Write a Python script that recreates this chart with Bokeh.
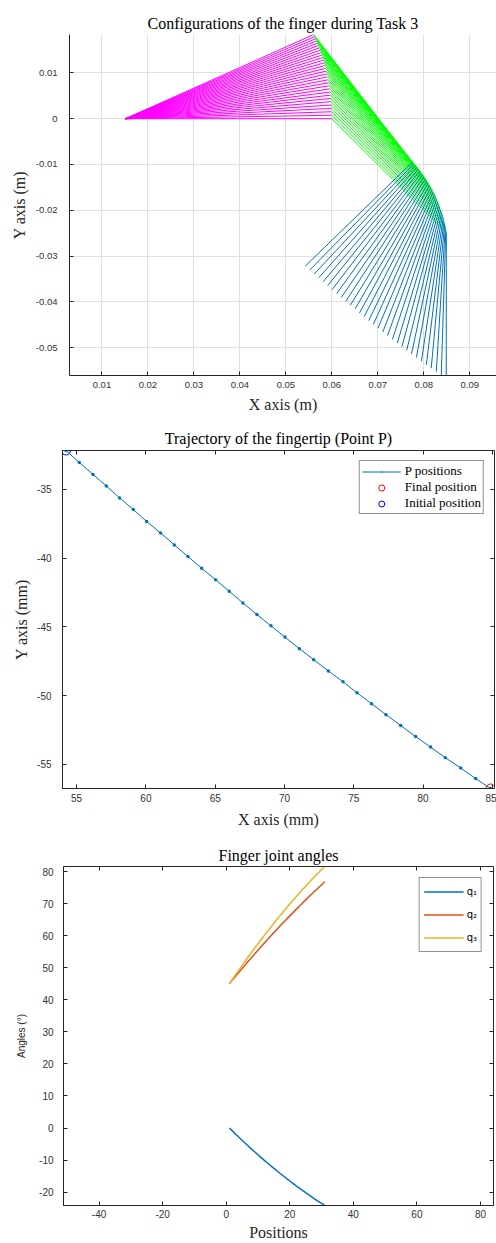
import math
from bokeh.plotting import figure
from bokeh.models import (FixedTicker, LinearAxis, Range1d, Legend,
                          LegendItem, ColumnDataSource)
from bokeh.layouts import column
from bokeh.embed import file_html
from bokeh.resources import INLINE

# ---------------- data ----------------
positions = [1, 2, 3, 4, 5, 6, 7, 8, 9, 10, 11, 12, 13, 14, 15, 16,
             17, 18, 19, 20, 21, 22, 23, 24, 25, 26, 27, 28, 29, 30, 31]
q1_deg = [0.00, -0.97, -1.94, -2.89, -3.83, -4.76, -5.67, -6.58, -7.47, -8.35,
          -9.22, -10.08, -10.92, -11.76, -12.58, -13.40, -14.20, -14.98, -15.76,
          -16.53, -17.28, -18.02, -18.75, -19.47, -20.18, -20.88, -21.56, -22.23,
          -22.89, -23.54, -24.18]
q2_deg = [45.00, 46.20, 47.39, 48.58, 49.75, 50.91, 52.07, 53.21, 54.34, 55.47,
          56.58, 57.68, 58.78, 59.86, 60.94, 62.00, 63.06, 64.10, 65.14, 66.16,
          67.18, 68.19, 69.18, 70.17, 71.14, 72.11, 73.07, 74.02, 74.95, 75.88, 76.80]
q3_deg = [45.00, 46.45, 47.89, 49.31, 50.71, 52.10, 53.47, 54.83, 56.17, 57.49,
          58.80, 60.09, 61.37, 62.63, 63.87, 65.10, 66.31, 67.51, 68.69, 69.86,
          71.00, 72.13, 73.25, 74.35, 75.43, 76.50, 77.55, 78.59, 79.61, 80.61, 81.60]

# finger geometry (m): base joint and first two phalanx lengths
base_xy_m = [0.0151, 0.0]
link_lengths_m = [0.0449, 0.0352]

# fingertip P positions (mm), first = initial, last = final
p_x_mm = [54.23, 55.19, 56.18, 57.14, 58.10, 59.09, 60.05, 61.06, 62.05, 63.03,
          64.02, 65.03, 66.01, 67.00, 68.01, 69.02, 70.03, 71.07, 72.10, 73.16,
          74.22, 75.23, 76.28, 77.32, 78.38, 79.46, 80.54, 81.60, 82.71, 83.79, 84.87]
p_y_mm = [-32.18, -33.05, -33.92, -34.76, -35.63, -36.47, -37.34, -38.18, -39.05,
          -39.89, -40.74, -41.58, -42.42, -43.27, -44.11, -44.93, -45.75, -46.59,
          -47.39, -48.21, -49.00, -49.80, -50.59, -51.39, -52.18, -52.98, -53.75,
          -54.52, -55.27, -56.04, -56.76]

x1_ticks = [0.01, 0.02, 0.03, 0.04, 0.05, 0.06, 0.07, 0.08, 0.09]
x1_labels = ["0.01", "0.02", "0.03", "0.04", "0.05", "0.06", "0.07", "0.08", "0.09"]
y1_ticks = [-0.05, -0.04, -0.03, -0.02, -0.01, 0.0, 0.01]
y1_labels = ["-0.05", "-0.04", "-0.03", "-0.02", "-0.01", "0", "0.01"]
x2_ticks = [55, 60, 65, 70, 75, 80, 85]
x2_labels = ["55", "60", "65", "70", "75", "80", "85"]
y2_ticks = [-55, -50, -45, -40, -35]
y2_labels = ["-55", "-50", "-45", "-40", "-35"]
x3_ticks = [-40, -20, 0, 20, 40, 60, 80]
x3_labels = ["-40", "-20", "0", "20", "40", "60", "80"]
y3_ticks = [-20, -10, 0, 10, 20, 30, 40, 50, 60, 70, 80]
y3_labels = ["-20", "-10", "0", "10", "20", "30", "40", "50", "60", "70", "80"]

# ---------------- styles ----------------
AX = "#262626"
TICKTXT = "#333333"
SANS = "Liberation Sans"
SERIF = "Liberation Serif"
BLUE = "#0072BD"
ORANGE = "#D95319"
YELLOW = "#EDB120"


def make_fig(w, h, xr, yr, mb, title, standoff):
    p = figure(width=w, height=h, x_range=Range1d(*xr), y_range=Range1d(*yr),
               output_backend="svg", toolbar_location=None, title=title,
               min_border_left=mb[0], min_border_right=mb[1],
               min_border_top=mb[2], min_border_bottom=mb[3],
               frame_align=False)
    p.background_fill_color = "white"
    p.border_fill_color = "white"
    p.title.text_font = SERIF
    p.title.text_font_size = "16px"
    p.title.text_font_style = "normal"
    p.title.text_color = "#000000"
    p.title.align = "center"
    p.title.standoff = standoff
    return p


def style_axis(ax, ticks, labels, standoff, size="10px"):
    ax.ticker = FixedTicker(ticks=ticks)
    ax.major_label_overrides = {t: l for t, l in zip(ticks, labels)}
    ax.major_tick_in = 4
    ax.major_tick_out = 0
    ax.minor_tick_line_color = None
    ax.axis_line_color = AX
    ax.axis_line_width = 1
    ax.major_tick_line_color = AX
    ax.major_label_text_font = SANS
    ax.major_label_text_font_size = size
    ax.major_label_text_color = TICKTXT
    ax.major_label_standoff = standoff


def axis_title(ax, text, standoff, font=SERIF, size="16px"):
    ax.axis_label = text
    ax.axis_label_text_font = font
    ax.axis_label_text_font_size = size
    ax.axis_label_text_font_style = "normal"
    ax.axis_label_text_color = AX
    ax.axis_label_standoff = standoff


def mirror_axes(p, xt, yt):
    for place, ticks in (("above", xt), ("right", yt)):
        ax = LinearAxis(ticker=FixedTicker(ticks=ticks))
        ax.major_tick_in = 4
        ax.major_tick_out = 0
        ax.minor_tick_line_color = None
        ax.axis_line_color = None
        ax.major_tick_line_color = AX
        ax.major_label_text_font_size = "1px"
        ax.major_label_text_color = None
        ax.major_label_standoff = 0
        p.add_layout(ax, place)


# ---------------- figure 1: configurations ----------------
XR1 = (0.00295, 0.0958)
YR1 = (-0.0561, 0.0184)
p1 = make_fig(496, 418, XR1, YR1, (69, 0, 34, 43),
              "Configurations of the finger during Task 3", 6)
p1.outline_line_color = None
style_axis(p1.xaxis[0], x1_ticks, x1_labels, 6, "9.5px")
style_axis(p1.yaxis[0], y1_ticks, y1_labels, 12, "9.5px")
axis_title(p1.xaxis[0], "X axis (m)", 5)
axis_title(p1.yaxis[0], "Y axis (m)", 5)
p1.xgrid.ticker = FixedTicker(ticks=x1_ticks)
p1.ygrid.ticker = FixedTicker(ticks=y1_ticks)
p1.grid.grid_line_color = "#dfdfdf"
p1.grid.grid_line_width = 1

seg = dict(x0=[], y0=[], x1=[], y1=[], color=[])
n = len(positions)
for k in range(n):
    t1 = math.radians(-q1_deg[k])
    t2 = t1 - math.radians(q2_deg[k])
    j1x = base_xy_m[0] + link_lengths_m[0] * math.cos(t1)
    j1y = base_xy_m[1] + link_lengths_m[0] * math.sin(t1)
    j2x = j1x + link_lengths_m[1] * math.cos(t2)
    j2y = j1y + link_lengths_m[1] * math.sin(t2)
    tx = p_x_mm[n - 1 - k] / 1000.0
    ty = p_y_mm[n - 1 - k] / 1000.0
    for (a, b, c, d, col) in ((base_xy_m[0], base_xy_m[1], j1x, j1y, "#FF00FF"),
                              (j1x, j1y, j2x, j2y, "#00FF00"),
                              (j2x, j2y, tx, ty, BLUE)):
        seg["x0"].append(a)
        seg["y0"].append(b)
        seg["x1"].append(c)
        seg["y1"].append(d)
        seg["color"].append(col)
p1.segment("x0", "y0", "x1", "y1", source=ColumnDataSource(seg),
           line_color="color", line_width=1)

# ---------------- figure 2: fingertip trajectory ----------------
XR2 = (53.98, 85.15)
YR2 = (-56.76, -32.18)
p2 = make_fig(496, 412, XR2, YR2, (62, 2, 32, 40),
              "Trajectory of the fingertip (Point P)", 7)
p2.outline_line_color = AX
p2.grid.visible = False
style_axis(p2.xaxis[0], x2_ticks, x2_labels, 5)
style_axis(p2.yaxis[0], y2_ticks, y2_labels, 11)
axis_title(p2.xaxis[0], "X axis (mm)", 6)
axis_title(p2.yaxis[0], "Y axis (mm)", 4)
mirror_axes(p2, x2_ticks, y2_ticks)

r_line = p2.line(p_x_mm, p_y_mm, line_color=BLUE, line_width=1)
r_dots = p2.scatter(p_x_mm, p_y_mm, marker="dot", size=14,
                    fill_color=BLUE, line_color=BLUE)
r_fin = p2.scatter([p_x_mm[-1]], [p_y_mm[-1]], marker="circle", size=9,
                   fill_color=None, line_color="#FF0000", line_width=1)
r_ini = p2.scatter([p_x_mm[0]], [p_y_mm[0]], marker="circle", size=9,
                   fill_color=None, line_color="#0000FF", line_width=1)
leg2 = Legend(items=[LegendItem(label="P positions", renderers=[r_line, r_dots]),
                     LegendItem(label="Final position", renderers=[r_fin]),
                     LegendItem(label="Initial position", renderers=[r_ini])],
              location="top_right", margin=10, padding=2, spacing=0,
              glyph_width=39, glyph_height=15, label_height=15, label_standoff=4,
              label_text_font=SERIF, label_text_font_size="13px",
              label_text_color="#000000",
              border_line_color=AX, border_line_width=1,
              background_fill_color="white", background_fill_alpha=1.0)
p2.add_layout(leg2)

# ---------------- figure 3: joint angles ----------------
XR3 = (-51.2, 84.1)
YR3 = (-24.17, 81.56)
p3 = make_fig(496, 413, XR3, YR3, (63, 3, 36, 38), "Finger joint angles", 6)
p3.outline_line_color = AX
p3.grid.visible = False
style_axis(p3.xaxis[0], x3_ticks, x3_labels, 4)
style_axis(p3.yaxis[0], y3_ticks, y3_labels, 10)
axis_title(p3.xaxis[0], "Positions", 3)
axis_title(p3.yaxis[0], "Angles (°)", 9, font=SANS, size="10px")
mirror_axes(p3, x3_ticks, y3_ticks)

r1 = p3.line(positions, q1_deg, line_color=BLUE, line_width=1.5)
r2 = p3.line(positions, q2_deg, line_color=ORANGE, line_width=1.5)
r3 = p3.line(positions, q3_deg, line_color=YELLOW, line_width=1.5)
leg3 = Legend(items=[LegendItem(label="q\u2081", renderers=[r1]),
                     LegendItem(label="q\u2082", renderers=[r2]),
                     LegendItem(label="q\u2083", renderers=[r3])],
              location="top_right", margin=11, padding=4, spacing=4,
              glyph_width=40, glyph_height=19, label_height=19, label_width=10,
              label_standoff=3,
              label_text_font="DejaVu Sans", label_text_font_size="10px",
              label_text_color="#000000",
              border_line_color=AX, border_line_width=1,
              background_fill_color="white", background_fill_alpha=1.0)
p3.add_layout(leg3)

layout = column(p1, p2, p3)
open("out.html", "w").write(file_html(layout, INLINE, "Finger task 3"))
